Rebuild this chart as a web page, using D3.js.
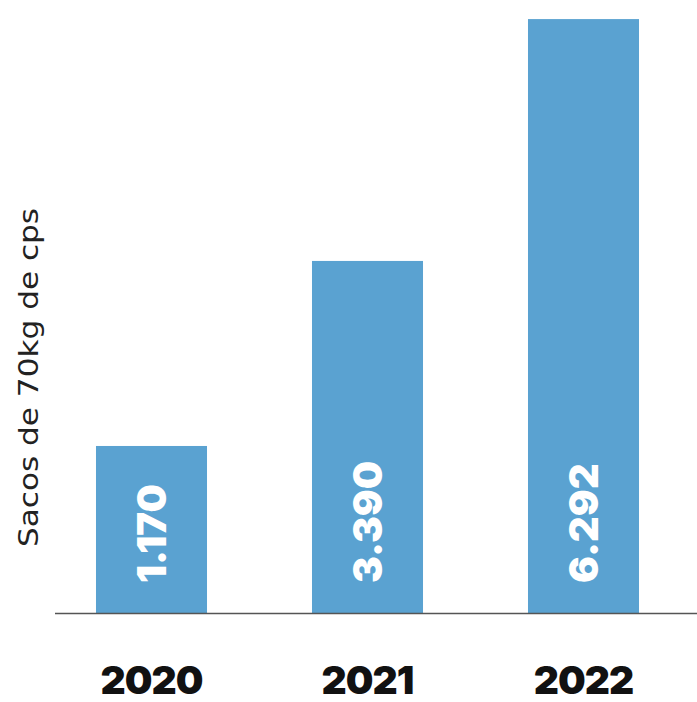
<!DOCTYPE html>
<html><head><meta charset="utf-8">
<script src="https://cdn.jsdelivr.net/npm/d3@7"></script>
<style>html,body{margin:0;padding:0;background:#fff;overflow:hidden;}svg{display:block;}</style>
</head><body>
<div id="chart"></div>
<script>
const years = ["2020", "2021", "2022"];
const values = [1170, 3390, 6292];
const valueLabels = ["1.170", "3.390", "6.292"];
const yTitle = "Sacos de 70kg de cps";

const W = 697, H = 702;
const baseY = 613, topY = 16;
const svg = d3.select("#chart").append("svg").attr("width", W).attr("height", H);

const x = d3.scaleBand().domain(years).range([43.5, 691.5]).paddingInner(0.486).paddingOuter(0.243);
const y = d3.scaleLinear().domain([-834, 6329]).range([baseY, topY]);

const data = years.map((yr, i) => ({yr, v: values[i], lab: valueLabels[i]}));

svg.selectAll("rect.bar").data(data).join("rect").attr("class", "bar")
  .attr("x", d => x(d.yr)).attr("width", x.bandwidth())
  .attr("y", d => y(d.v)).attr("height", d => baseY - y(d.v))
  .attr("fill", "#5aa2d1");

svg.append("line").attr("x1", 55).attr("x2", W).attr("y1", baseY + 0.5).attr("y2", baseY + 0.5)
  .attr("stroke", "#555").attr("stroke-width", 1.5);

svg.selectAll("text.val").data(data).join("text").attr("class", "val")
  .attr("transform", d => `translate(${x(d.yr) + x.bandwidth() / 2 + 14.5},${baseY - 30}) rotate(-90)`)
  .attr("text-anchor", "start")
  .attr("fill", "#fff")
  .style("font-family", "Inter, 'Open Sans', sans-serif").style("font-weight", 900).style("font-size", "40px")
  .text(d => d.lab);

svg.selectAll("text.year").data(data).join("text").attr("class", "year")
  .attr("x", d => x(d.yr) + x.bandwidth() / 2).attr("y", 694)
  .attr("text-anchor", "middle").attr("fill", "#111")
  .style("font-family", "Inter, 'Open Sans', sans-serif").style("font-weight", 900).style("font-size", "39px")
  .style("letter-spacing", "-1px")
  .text(d => d.yr);

svg.append("text")
  .attr("transform", `translate(38,377.5) rotate(-90)`)
  .attr("text-anchor", "middle").attr("fill", "#222")
  .attr("textLength", 339).attr("lengthAdjust", "spacingAndGlyphs")
  .style("font-family", "'DejaVu Sans', sans-serif").style("font-size", "26px")
  .text(yTitle);
</script>
</body></html>
